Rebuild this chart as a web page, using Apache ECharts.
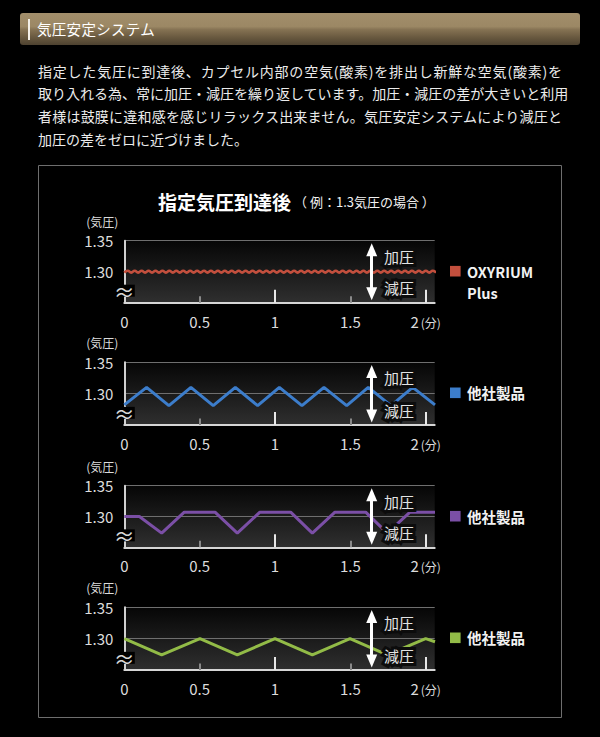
<!DOCTYPE html>
<html lang="ja">
<head>
<meta charset="utf-8">
<script src="https://cdn.jsdelivr.net/npm/echarts@6/dist/echarts.min.js"></script>
<style>
html,body{margin:0;padding:0;background:#000;width:600px;height:737px;overflow:hidden;font-family:"Noto Sans CJK JP",sans-serif;}
#chart{position:absolute;left:0;top:0;width:600px;height:737px;}
#head{position:absolute;left:20px;top:13px;width:560px;height:32px;border-radius:3px;
 background:linear-gradient(to bottom,#a28e6b 0%,#9c8865 42%,#857253 52%,#6a5a40 75%,#4e4230 100%);}
#head .bar{position:absolute;left:8px;top:6px;width:2px;height:21px;background:#f4f0e8;}
#head .t{position:absolute;left:17px;top:0;line-height:32px;font-size:14.5px;color:#fff;letter-spacing:0.3px;}
#para{position:absolute;left:38px;top:59.5px;width:524px;color:#ececec;font-size:14px;}
#para div{height:22.7px;line-height:22.7px;text-align:justify;text-align-last:justify;white-space:nowrap;}
#para div.last{text-align-last:left;}
</style>
</head>
<body>
<div id="chart"></div>
<div id="head"><div class="bar"></div><div class="t">気圧安定システム</div></div>
<div id="para">
<div>指定した気圧に到達後、カプセル内部の空気(酸素)を排出し新鮮な空気(酸素)を</div>
<div>取り入れる為、常に加圧・減圧を繰り返しています。加圧・減圧の差が大きいと利用</div>
<div>者様は鼓膜に違和感を感じリラックス出来ません。気圧安定システムにより減圧と</div>
<div class="last">加圧の差をゼロに近づけました。</div>
</div>
<script>
// ---------------- data ----------------
const titleMain = '指定気圧到達後';
const titleSub = '（ 例：1.3気圧の場合 ）';
const xTickLabels = [0, 0.5, 1, 1.5, 2];
const xMajorTicks = [1, 2];
const xMinorTicks = [0.5, 1.5];
const yTickLabels = [1.30, 1.35];
const seriesNames = ['OXYRIUM Plus', '他社製品A', '他社製品B', '他社製品C'];
const legendTexts = [['OXYRIUM', 'Plus'], ['他社製品'], ['他社製品'], ['他社製品']];

const redX = [0.000,0.023,0.046,0.069,0.092,0.115,0.138,0.161,0.184,0.207,
  0.230,0.253,0.276,0.299,0.322,0.345,0.368,0.391,0.414,0.437,
  0.460,0.483,0.506,0.529,0.552,0.575,0.598,0.621,0.644,0.667,
  0.690,0.713,0.736,0.759,0.782,0.805,0.828,0.851,0.874,0.897,
  0.920,0.943,0.966,0.989,1.012,1.035,1.058,1.081,1.104,1.127,
  1.150,1.173,1.196,1.219,1.242,1.265,1.288,1.311,1.334,1.357,
  1.380,1.403,1.426,1.449,1.472,1.495,1.518,1.541,1.564,1.587,
  1.610,1.633,1.656,1.679,1.702,1.725,1.748,1.771,1.794,1.817,
  1.840,1.863,1.886,1.909,1.932,1.955,1.978,2.001,2.024,2.047,2.070];
const redY = [1.2984,1.3016,1.2984,1.3016,1.2984,1.3016,1.2984,1.3016,1.2984,1.3016,
  1.2984,1.3016,1.2984,1.3016,1.2984,1.3016,1.2984,1.3016,1.2984,1.3016,
  1.2984,1.3016,1.2984,1.3016,1.2984,1.3016,1.2984,1.3016,1.2984,1.3016,
  1.2984,1.3016,1.2984,1.3016,1.2984,1.3016,1.2984,1.3016,1.2984,1.3016,
  1.2984,1.3016,1.2984,1.3016,1.2984,1.3016,1.2984,1.3016,1.2984,1.3016,
  1.2984,1.3016,1.2984,1.3016,1.2984,1.3016,1.2984,1.3016,1.2984,1.3016,
  1.2984,1.3016,1.2984,1.3016,1.2984,1.3016,1.2984,1.3016,1.2984,1.3016,
  1.2984,1.3016,1.2984,1.3016,1.2984,1.3016,1.2984,1.3016,1.2984,1.3016,
  1.2984,1.3016,1.2984,1.3016,1.2984,1.3016,1.2984,1.3016,1.2984,1.3016,1.2984];
const blueData = [[0,1.282],[0.148,1.310],[0.296,1.281],[0.442,1.310],[0.590,1.281],
  [0.737,1.310],[0.885,1.281],[1.029,1.310],[1.179,1.281],[1.325,1.310],
  [1.476,1.281],[1.619,1.310],[1.770,1.281],[1.914,1.310],[2.062,1.282]];
const purpleData = [[0,1.300],[0.100,1.300],[0.248,1.273],[0.398,1.307],[0.602,1.307],
  [0.750,1.273],[0.900,1.307],[1.104,1.307],[1.248,1.273],[1.398,1.307],
  [1.602,1.307],[1.745,1.273],[1.896,1.307],[2.062,1.307]];
const greenData = [[0,1.300],[0.248,1.274],[0.502,1.300],[0.750,1.274],[1.000,1.300],
  [1.248,1.274],[1.498,1.300],[1.745,1.274],[2.000,1.300],[2.062,1.295]];
// annotation values (arrow at x, label x, value ends)
const arrowX = 1.642;
const arrowTopY = 1.3353, arrowBottomY = 1.2645;
const labelX = 1.823;
const upLabelY = 1.325, downLabelY = 1.2738;
const breakY = 1.2694;
const xMax = 2.06, yMin = 1.25, yMax = 1.35, yInterval = 0.05;

const redData = redX.map((x, i) => [x, redY[i]]);
const allData = [redData, blueData, purpleData, greenData];

// ---------------- layout / style ----------------
const colors = ['#c34f3d', '#3c7dcb', '#7b4fa6', '#92bb47'];
const panelTop = [240.7, 362.3, 485.7, 607.3];
const panelH = [62, 62.7, 61.6, 62.7];
const gridLeft = 124.3, gridW = 310.4;
const FONT = '"Noto Sans CJK JP", "Noto Sans", sans-serif';
const txt = '#dcdcdc';

const grids = [], xAxes = [], yAxes = [], series = [], graphics = [];

graphics.push({type:'rect', shape:{x:38.5, y:165.5, width:523, height:552},
  style:{fill:'none', stroke:'#6e6e6e', lineWidth:1}, silent:true});

for (let i = 0; i < 4; i++) {
  const g = {left:gridLeft, top:panelTop[i], width:gridW, height:panelH[i]};
  grids.push(Object.assign({show:true, borderWidth:0,
    backgroundColor:{type:'linear', x:0, y:0, x2:0, y2:1,
      colorStops:[{offset:0, color:'#060606'}, {offset:1, color:'#2f2f2f'}]}}, g));
  grids.push(Object.assign({show:false}, g));
  const gm = 2*i, go = 2*i+1;
  xAxes.push({type:'value', gridIndex:gm, min:0, max:xMax, position:'bottom', z:1,
    axisLine:{show:true, lineStyle:{color:'#d6d6d6', width:2}},
    axisTick:{show:true, inside:true, length:6.5, customValues:xMinorTicks, lineStyle:{color:'#8a8a8a', width:2}},
    splitLine:{show:false},
    axisLabel:{customValues:xTickLabels, color:txt, fontSize:15, fontFamily:FONT, margin:11,
      formatter: v => v === 2 ? '2{u|(分)}' : String(v),
      rich:{u:{fontSize:12, color:txt, fontFamily:FONT, padding:[2,0,0,2]}}}});
  xAxes.push({type:'value', gridIndex:go, min:0, max:xMax, position:'bottom', z:1,
    axisLine:{show:false}, axisLabel:{show:false}, splitLine:{show:false},
    axisTick:{show:true, inside:true, length:13, customValues:xMajorTicks, lineStyle:{color:'#e8e8e8', width:2}}});
  yAxes.push({type:'value', gridIndex:gm, min:yMin, max:yMax, interval:yInterval, z:1,
    name:'(気圧)', nameLocation:'end', nameGap:13,
    nameTextStyle:{align:'right', color:txt, fontSize:12, fontFamily:FONT, padding:[0,6,0,0], lineHeight:13},
    axisLine:{show:true, lineStyle:{color:'#d0d0d0', width:2}},
    axisTick:{show:false},
    axisLabel:{customValues:yTickLabels, color:txt, fontSize:15, fontFamily:FONT, margin:11, lineHeight:15,
      formatter: v => v.toFixed(2)},
    splitLine:{show:true, lineStyle:{color:'#6f6f6f', width:1}}});
  yAxes.push({type:'value', gridIndex:go, min:yMin, max:yMax, show:false});

  series.push({type:'line', name:seriesNames[i], xAxisIndex:gm, yAxisIndex:gm,
    data:allData[i], showSymbol:false, symbol:'none', smooth:i === 0 ? 0.5 : false,
    lineStyle:{color:colors[i], width:i === 0 ? 2.6 : 3}, itemStyle:{color:colors[i]},
    animation:false, silent:true,
    markLine:{silent:true, symbol:['triangle','triangle'], symbolSize:[11,13], animation:false,
      lineStyle:{color:'#ffffff', width:3, type:'solid'}, label:{show:false},
      emphasis:{disabled:true},
      data:[[{coord:[arrowX, arrowTopY]}, {coord:[arrowX, arrowBottomY]}]]},
    markPoint:{silent:true, symbol:'circle', symbolSize:1, animation:false,
      itemStyle:{color:'rgba(0,0,0,0)'},
      label:{show:true, position:'inside', color:'#e4e4e4', fontSize:15, fontFamily:FONT,
        textBorderColor:'#0c0c0c', textBorderWidth:6},
      data:[
        {coord:[labelX, upLabelY], label:{formatter:'加圧'}},
        {coord:[labelX, downLabelY], label:{formatter:'減圧'}},
        {coord:[0, breakY], label:{formatter:'≈', fontSize:21, color:'#d8d8d8', textBorderWidth:0,
          backgroundColor:'#000', padding:[0,0,0,0], lineHeight:12}}
      ]}
  });

  // legend
  const ly = panelTop[i] + 30.5;
  graphics.push({type:'rect', shape:{x:450, y:ly - 5.3, width:10.6, height:10.6},
    style:{fill:colors[i]}, silent:true});
  legendTexts[i].forEach((t, k) => {
    graphics.push({type:'text', x:467, y:ly + k*21, silent:true,
      style:{text:t, fill:'#f2f2f2', font:'bold 14.5px ' + FONT, textVerticalAlign:'middle', textAlign:'left'}});
  });
}

const chart = echarts.init(document.getElementById('chart'), null, {renderer:'svg'});
chart.setOption({
  backgroundColor:'#000',
  animation:false,
  title:{text:'{a|' + titleMain + '}{b|' + titleSub + '}', left:153, top:183,
    textStyle:{rich:{
      a:{fontSize:19, fontWeight:'bold', color:'#fff', fontFamily:FONT, lineHeight:26},
      b:{fontSize:13, fontWeight:'normal', color:'#f2f2f2', fontFamily:FONT, lineHeight:26, padding:[0,0,0,3]}}}},
  grid:grids, xAxis:xAxes, yAxis:yAxes, series:series, graphic:graphics
});
</script>
</body>
</html>
